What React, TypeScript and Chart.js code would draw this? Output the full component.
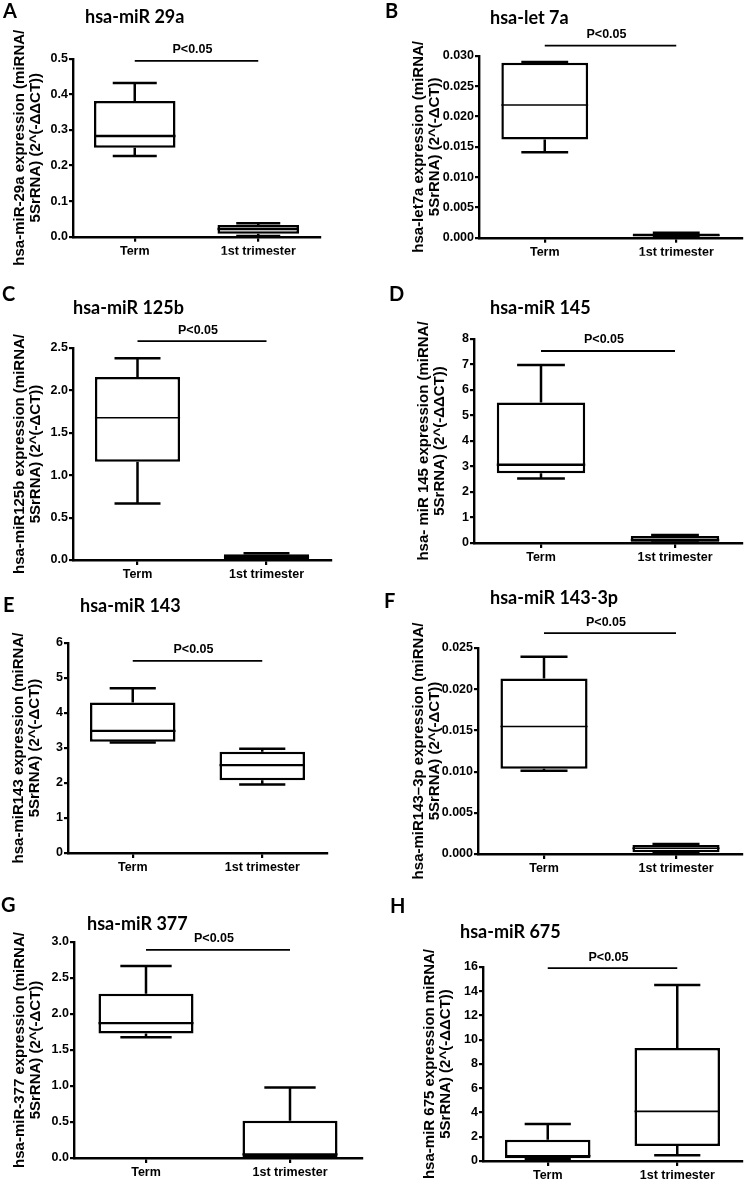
import React, { useEffect, useRef } from "react";
import { Chart, registerables } from "chart.js";

Chart.register(...registerables);

const categories = ["Term", "1st trimester"];

// five-number summaries: [min, Q1, median, Q3, max]
const mir29aTerm = [0.227, 0.25, 0.283, 0.381, 0.432];
const mir29aFirst = [0.002, 0.008, 0.0215, 0.0326, 0.038];
const let7aTerm = [0.0141, 0.0162, 0.0219, 0.0289, 0.029];
const let7aFirst = [0.0001, 0.0002, 0.0004, 0.00068, 0.0008];
const mir125bTerm = [0.667, 1.16, 1.677, 2.157, 2.38];
const mir125bFirst = [0.002, 0.008, 0.04, 0.068, 0.08];
const mir145Term = [2.53, 2.74, 3.07, 5.51, 6.98];
const mir145First = [0.02, 0.05, 0.12, 0.27, 0.31];
const mir143Term = [3.16, 3.18, 3.49, 4.3, 4.71];
const mir143First = [1.96, 2.08, 2.51, 2.89, 2.98];
const mir1433pTerm = [0.0101, 0.01034, 0.01547, 0.0213, 0.02395];
const mir1433pFirst = [0.0001, 0.0002, 0.0007, 0.0011, 0.0012];
const mir377Term = [1.677, 1.728, 1.872, 2.28, 2.666];
const mir377First = [0.003, 0.01, 0.05, 0.516, 0.98];
const mir675Term = [0.17, 0.22, 0.42, 1.76, 3.05];
const mir675First = [0.47, 1.24, 4.1, 9.31, 14.52];

const termStats = [mir29aTerm, let7aTerm, mir125bTerm, mir145Term, mir143Term, mir1433pTerm, mir377Term, mir675Term];
const firstStats = [mir29aFirst, let7aFirst, mir125bFirst, mir145First, mir143First, mir1433pFirst, mir377First, mir675First];

// significance bar level (y value) and label
const sigLevels = [0.494, 0.0317, 2.58, 7.53, 5.49, 0.0268, 2.89, 15.9];
const sigLabel = "P<0.05";

// y axis ranges / ticks
const yMax = [0.5, 0.03, 2.5, 8, 6, 0.025, 3.0, 16];
const yStep = [0.1, 0.005, 0.5, 1, 1, 0.005, 0.5, 2];
const yDecimals = [1, 3, 1, 0, 0, 3, 1, 0];

const panelLetters = ["A", "B", "C", "D", "E", "F", "G", "H"];
const panelTitles = [
  "hsa-miR 29a",
  "hsa-let 7a",
  "hsa-miR 125b",
  "hsa-miR 145",
  "hsa-miR 143",
  "hsa-miR 143-3p",
  "hsa-miR 377",
  "hsa-miR 675",
];
const yTitles = [
  ["hsa-miR-29a expression (miRNA/", "5SrRNA) (2^(-ΔΔCT))"],
  ["hsa-let7a expression (miRNA/", "5SrRNA) (2^(-ΔCT))"],
  ["hsa-miR125b expression (miRNA/", "5SrRNA) (2^(-ΔCT))"],
  ["hsa- miR 145 expression (miRNA/", "5SrRNA) (2^(-ΔΔCT))"],
  ["hsa-miR143 expression (miRNA/", "5SrRNA) (2^(-ΔCT))"],
  ["hsa-miR143–3p expression (miRNA/", "5SrRNA) (2^(-ΔCT))"],
  ["hsa-miR-377 expression (miRNA/", "5SrRNA) (2^(-ΔCT))"],
  ["hsa-miR 675 expression miRNA/", "5SrRNA) (2^(-ΔΔCT))"],
];

// layout (page pixel coordinates)
type Lay = {
  cx: number; cy: number; cw: number; ch: number;
  L: number; R: number; T: number; B: number;
  t1: number; letter: [number, number]; title: [number, number]; medW: number;
};
const layouts: Lay[] = [
  { cx: 0, cy: 0, cw: 372, ch: 290, L: 73, R: 320, T: 58.7, B: 236.7, t1: 20, letter: [3, 12], title: [85, 17], medW: 2.5 },
  { cx: 372, cy: 0, cw: 373, ch: 290, L: 479, R: 742, T: 56, B: 237.7, t1: 419, letter: [385, 12], title: [490, 18], medW: 1.6 },
  { cx: 0, cy: 275, cw: 372, ch: 305, L: 73, R: 331, T: 348, B: 560, t1: 20, letter: [2, 295], title: [73, 308], medW: 1.6 },
  { cx: 372, cy: 275, cw: 373, ch: 305, L: 474, R: 742, T: 339, B: 543, t1: 424, letter: [389, 295], title: [490, 308], medW: 2.5 },
  { cx: 0, cy: 565, cw: 372, ch: 315, L: 68, R: 327, T: 643, B: 853, t1: 19, letter: [3, 606], title: [80, 606], medW: 2.2 },
  { cx: 372, cy: 565, cw: 373, ch: 315, L: 478, R: 742, T: 648, B: 854, t1: 419, letter: [384, 602], title: [490, 598], medW: 1.6 },
  { cx: 0, cy: 865, cw: 372, ch: 315, L: 74, R: 362, T: 942, B: 1158, t1: 20, letter: [1, 906], title: [87, 924], medW: 2.2 },
  { cx: 372, cy: 865, cw: 373, ch: 315, L: 483, R: 742, T: 967, B: 1161, t1: 430, letter: [390, 907], title: [460, 932], medW: 1.8 },
];

const ARIAL = "'Liberation Sans', Arial, Helvetica, sans-serif";
const TITLE_FONT = "Lato, 'Open Sans', sans-serif";

function extrasPlugin(idx: number, lay: Lay) {
  return {
    id: "boxExtras" + idx,
    afterDatasetsDraw(chart: any) {
      const ctx = chart.ctx as CanvasRenderingContext2D;
      const y = chart.scales.y;
      const meta = chart.getDatasetMeta(0);
      const stats = [termStats[idx], firstStats[idx]];
      ctx.save();
      ctx.strokeStyle = "#000";
      ctx.lineCap = "butt";
      stats.forEach((s, i) => {
        const el = meta.data[i];
        const { x, width } = el.getProps(["x", "width"], true);
        const pMin = y.getPixelForValue(s[0]);
        const pQ1 = y.getPixelForValue(s[1]);
        const pMed = y.getPixelForValue(s[2]);
        const pQ3 = y.getPixelForValue(s[3]);
        const pMax = y.getPixelForValue(s[4]);
        const cap = width * 0.27;
        ctx.lineWidth = 2.5;
        ctx.beginPath();
        ctx.moveTo(x, pQ3);
        ctx.lineTo(x, pMax);
        ctx.moveTo(x - cap, pMax);
        ctx.lineTo(x + cap, pMax);
        ctx.moveTo(x, pQ1);
        ctx.lineTo(x, pMin);
        ctx.moveTo(x - cap, pMin);
        ctx.lineTo(x + cap, pMin);
        ctx.stroke();
        ctx.lineWidth = lay.medW;
        ctx.beginPath();
        ctx.moveTo(x - width / 2, pMed);
        ctx.lineTo(x + width / 2, pMed);
        ctx.stroke();
      });
      ctx.restore();
    },
    afterDraw(chart: any) {
      const ctx = chart.ctx as CanvasRenderingContext2D;
      const x = chart.scales.x;
      const y = chart.scales.y;
      ctx.save();
      ctx.fillStyle = "#000";
      ctx.strokeStyle = "#000";
      // significance bar
      const x0 = x.getPixelForValue(0);
      const x1 = x.getPixelForValue(1);
      const ys = y.getPixelForValue(sigLevels[idx]);
      ctx.lineWidth = 1.8;
      ctx.beginPath();
      ctx.moveTo(x0, ys);
      ctx.lineTo(x1, ys);
      ctx.stroke();
      ctx.font = `bold 12.5px ${ARIAL}`;
      ctx.textAlign = "center";
      ctx.textBaseline = "middle";
      ctx.fillText(sigLabel, (x0 + x1) / 2 - 4, ys - 11);
      // panel letter and title
      ctx.textAlign = "left";
      ctx.font = `bold 20px ${TITLE_FONT}`;
      ctx.fillText(panelLetters[idx], lay.letter[0] - lay.cx, lay.letter[1] - lay.cy);
      ctx.font = `bold 18px ${TITLE_FONT}`;
      ctx.fillText(panelTitles[idx], lay.title[0] - lay.cx, lay.title[1] - lay.cy);
      ctx.restore();
    },
  };
}

function Panel({ idx }: { idx: number }) {
  const ref = useRef<HTMLCanvasElement>(null);
  const lay = layouts[idx];
  useEffect(() => {
    const canvas = ref.current;
    if (!canvas) return;
    const stats = [termStats[idx], firstStats[idx]];
    const titleSize = 15;
    const titleLH = 15.5;
    const padLeft = lay.t1 - titleLH / 2 - lay.cx;
    const wy = lay.L - lay.cx - padLeft;
    const hx = 18;
    const padBottom = lay.cy + lay.ch - lay.B - hx;
    const tickFont = { family: ARIAL, weight: "bold" as const, size: 12.5 };
    const dec = yDecimals[idx];
    const chart = new Chart(canvas, {
      type: "bar",
      data: {
        labels: categories,
        datasets: [
          {
            data: stats.map((s) => [s[1], s[3]]) as any,
            backgroundColor: "#ffffff",
            borderColor: "#000000",
            borderWidth: 2.5,
            borderSkipped: false,
            barPercentage: 0.66,
            categoryPercentage: 1,
          },
        ],
      },
      options: {
        responsive: false,
        animation: false,
        devicePixelRatio: 1,
        events: [],
        layout: {
          padding: {
            left: padLeft,
            right: lay.cx + lay.cw - lay.R,
            top: lay.T - lay.cy,
            bottom: padBottom,
          },
        },
        plugins: {
          legend: { display: false },
          tooltip: { enabled: false },
          title: { display: false },
        },
        scales: {
          x: {
            offset: true,
            grid: {
              display: true,
              drawOnChartArea: false,
              drawTicks: true,
              tickLength: 5,
              offset: false,
              color: "#000",
              lineWidth: 2.2,
            },
            border: { display: true, color: "#000", width: 2.4 },
            ticks: { color: "#000", font: tickFont, padding: 2, autoSkip: false, maxRotation: 0 },
            afterFit: (s: any) => {
              s.height = hx;
            },
          },
          y: {
            min: 0,
            max: yMax[idx],
            grid: {
              display: true,
              drawOnChartArea: false,
              drawTicks: true,
              tickLength: 4,
              color: "#000",
              lineWidth: 2.2,
            },
            border: { display: true, color: "#000", width: 2.4 },
            ticks: {
              stepSize: yStep[idx],
              color: "#000",
              font: tickFont,
              padding: 1,
              callback: (v: any) => Number(v).toFixed(dec),
            },
            title: {
              display: true,
              text: yTitles[idx],
              color: "#000",
              font: { family: ARIAL, weight: "bold", size: titleSize, lineHeight: titleLH / titleSize },
              padding: 0,
            },
            afterFit: (s: any) => {
              s.width = wy;
            },
          },
        },
      } as any,
      plugins: [extrasPlugin(idx, lay)],
    });
    return () => chart.destroy();
  }, [idx]);
  return (
    <canvas
      ref={ref}
      width={lay.cw}
      height={lay.ch}
      style={{ position: "absolute", left: lay.cx, top: lay.cy, width: lay.cw, height: lay.ch }}
    />
  );
}

export default function App() {
  return (
    <div style={{ position: "absolute", left: 0, top: 0, width: 745, height: 1180, background: "#fff" }}>
      {layouts.map((_, i) => (
        <Panel key={i} idx={i} />
      ))}
    </div>
  );
}
